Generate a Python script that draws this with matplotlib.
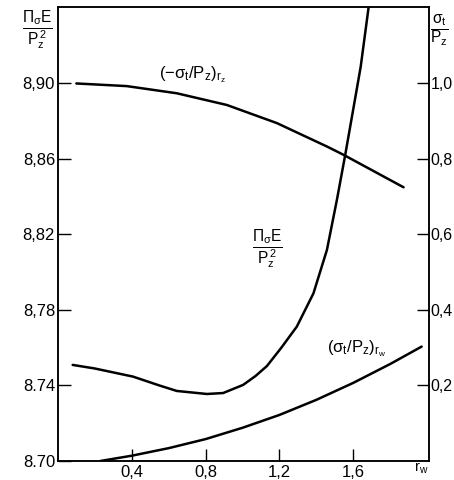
import matplotlib
matplotlib.use("Agg")
import matplotlib.pyplot as plt

plt.rcParams["font.family"] = ["Liberation Sans", "DejaVu Sans"]
plt.rcParams["mathtext.fontset"] = "custom"
plt.rcParams["mathtext.rm"] = "Liberation Sans"
plt.rcParams["mathtext.it"] = "Liberation Sans:italic"
plt.rcParams["mathtext.default"] = "regular"

# Pi_sigma E / Pz^2 (left axis)
pe_x = [0.08, 0.2, 0.407, 0.55, 0.644, 0.807, 0.895, 1.003, 1.07, 1.132, 1.21,
        1.294, 1.384, 1.457, 1.511, 1.556, 1.599, 1.64, 1.682]
pe_y = [8.7509, 8.749, 8.7447, 8.740, 8.7371, 8.7355, 8.7360, 8.7403, 8.745,
        8.7503, 8.760, 8.7712, 8.7888, 8.8118, 8.8383, 8.8621, 8.886, 8.9089, 8.9398]

# (-sigma_t/Pz)_rz (right axis)
rz_x = [0.10, 0.373, 0.644, 0.915, 1.186, 1.457, 1.547, 1.872]
rz_y = [1.0, 0.993, 0.974, 0.943, 0.895, 0.833, 0.811, 0.725]

# (sigma_t/Pz)_rw (right axis)
rw_x = [0.23, 0.4, 0.6, 0.8, 1.0, 1.2, 1.4, 1.6, 1.8, 1.97]
rw_y = [0.0, 0.014, 0.034, 0.058, 0.088, 0.122, 0.162, 0.207, 0.257, 0.303]

x_ticks = [0.4, 0.8, 1.2, 1.6]
x_labels = ["0,4", "0,8", "1,2", "1,6"]
left_ticks = [8.70, 8.74, 8.78, 8.82, 8.86, 8.90]
left_labels = ["8.70", "8.74", "8,78", "8,82", "8,86", "8,90"]
right_ticks = [0.2, 0.4, 0.6, 0.8, 1.0]
right_labels = ["0,2", "0,4", "0,6", "0,8", "1,0"]

fig = plt.figure(figsize=(4.54, 4.80), dpi=100)
ax = fig.add_axes([0.1275, 0.0396, 0.8175, 0.9458])
ax2 = ax.twinx()

ax.plot(pe_x, pe_y, color="black", lw=1.8, solid_capstyle="round", solid_joinstyle="round")
ax2.plot(rz_x, rz_y, color="black", lw=1.8, solid_capstyle="round", solid_joinstyle="round")
ax2.plot(rw_x, rw_y, color="black", lw=1.8, solid_capstyle="round", solid_joinstyle="round")

ax.set_xlim(0, 2.01)
ax.set_ylim(8.70, 8.9405)
ax2.set_ylim(0, 1.2025)

ax.set_xticks(x_ticks)
ax.set_xticklabels(x_labels)
ax.set_yticks(left_ticks)
ax.set_yticklabels(left_labels)
ax2.set_yticks(right_ticks)
ax2.set_yticklabels(right_labels)

ax.tick_params(axis="both", direction="in", length=9, width=1, labelsize=12, pad=2)
ax.tick_params(axis="x", pad=3)
ax2.tick_params(axis="y", direction="in", length=9, width=1, labelsize=11.5, pad=1)
for a in (ax, ax2):
    for s in a.spines.values():
        s.set_linewidth(1.1)

# axis titles
fig.text(0.083, 0.935, r"$\frac{\Pi_\sigma E}{P_z^{\,2}}$", fontsize=16, ha="center", va="center")
fig.text(0.968, 0.935, r"$\frac{\sigma_t}{P_z}$", fontsize=16, ha="center", va="center")
fig.text(0.927, 0.024, r"$r_w$", fontsize=10.5, ha="center", va="center")

# curve labels
ax.text(0.727, 8.9045, r"$(-\sigma_t/P_z)_{r_z}$", fontsize=12, ha="center", va="center")
ax.text(1.133, 8.812, r"$\frac{\Pi_\sigma E}{P_z^{\,2}}$", fontsize=16, ha="center", va="center")
ax.text(1.62, 8.7595, r"$(\sigma_t/P_z)_{r_w}$", fontsize=12, ha="center", va="center")

fig.savefig("out.png", dpi=100)
